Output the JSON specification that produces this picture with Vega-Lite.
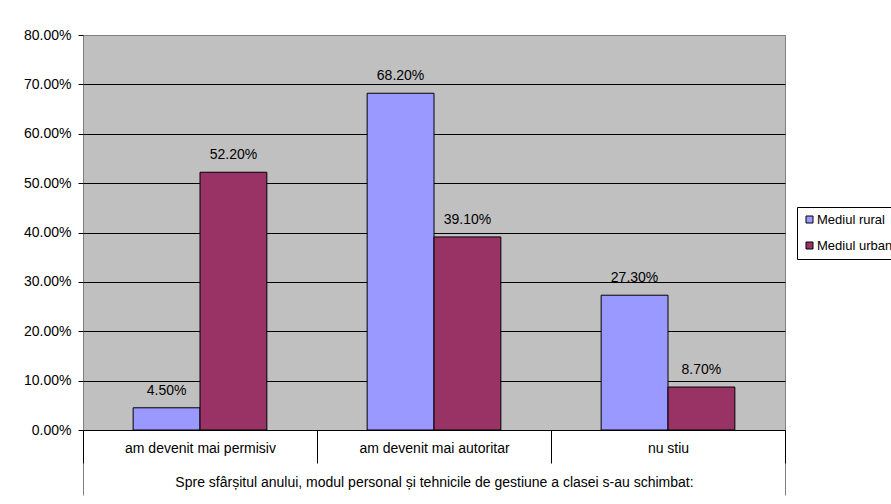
{
  "$schema": "https://vega.github.io/schema/vega-lite/v6.json",
  "width": 702,
  "height": 395,
  "autosize": {"type": "none"},
  "padding": {"left": 83, "top": 35, "right": 106, "bottom": 74},
  "background": "#FFFFFF",
  "config": {
    "font": "Liberation Sans",
    "view": {"fill": "#C0C0C0", "stroke": "#808080", "strokeWidth": 1},
    "axis": {"labelFont": "Liberation Sans", "labelFontSize": 14, "labelColor": "#000000"},
    "legend": {"labelFont": "Liberation Sans", "labelFontSize": 13, "labelColor": "#000000"}
  },
  "layer": [
    {
      "data": {"values": [
        {"question": "Spre sfârșitul anului, modul personal și tehnicile de gestiune a clasei s-au schimbat:"}
      ]},
      "mark": {"type": "bar", "opacity": 0},
      "encoding": {
        "x": {
          "field": "question",
          "type": "nominal",
          "scale": {"paddingInner": 0, "paddingOuter": 0},
          "axis": {
            "orient": "bottom",
            "title": null,
            "domain": false,
            "ticks": true,
            "tickBand": "extent",
            "tickSize": 65,
            "tickColor": "#808080",
            "tickWidth": 1,
            "labelAngle": 0,
            "labelBaseline": "middle",
            "labelPadding": -13,
            "labelLimit": 0
          }
        }
      }
    },
    {
      "data": {"values": [
        {"answer": "am devenit mai permisiv", "area": "Mediul rural", "share": 0.045},
        {"answer": "am devenit mai permisiv", "area": "Mediul urban", "share": 0.522},
        {"answer": "am devenit mai autoritar", "area": "Mediul rural", "share": 0.682},
        {"answer": "am devenit mai autoritar", "area": "Mediul urban", "share": 0.391},
        {"answer": "nu stiu", "area": "Mediul rural", "share": 0.273},
        {"answer": "nu stiu", "area": "Mediul urban", "share": 0.087}
      ]},
      "encoding": {
        "x": {
          "field": "answer",
          "type": "nominal",
          "sort": null,
          "scale": {"paddingInner": 0, "paddingOuter": 0},
          "axis": {
            "orient": "bottom",
            "title": null,
            "domain": true,
            "domainColor": "#000000",
            "domainWidth": 1,
            "ticks": true,
            "tickBand": "extent",
            "tickSize": 33,
            "tickColor": "#000000",
            "tickWidth": 1,
            "labelAngle": 0,
            "labelBaseline": "middle",
            "labelPadding": -15,
            "labelLimit": 0
          }
        },
        "xOffset": {
          "field": "area",
          "type": "nominal",
          "sort": null,
          "scale": {"paddingInner": 0, "paddingOuter": 0.75}
        },
        "y": {
          "field": "share",
          "type": "quantitative",
          "scale": {"domain": [0, 0.8], "nice": false, "zero": true},
          "axis": {
            "title": null,
            "values": [0, 0.1, 0.2, 0.3, 0.4, 0.5, 0.6, 0.7, 0.8],
            "format": ".2%",
            "domain": false,
            "ticks": true,
            "tickSize": 5,
            "tickColor": "#000000",
            "labelPadding": 7,
            "grid": true,
            "gridColor": {"condition": {"test": "datum.value >= 0.8", "value": "#808080"}, "value": "#000000"},
            "gridWidth": 1,
            "gridOpacity": 1
          }
        }
      },
      "layer": [
        {
          "mark": {"type": "bar", "stroke": "#000000", "strokeWidth": 1},
          "encoding": {
            "color": {
              "field": "area",
              "type": "nominal",
              "sort": null,
              "scale": {"domain": ["Mediul rural", "Mediul urban"], "range": ["#9999FF", "#993366"]},
              "legend": {
                "title": null,
                "orient": "none",
                "legendX": 714,
                "legendY": 172,
                "symbolType": "square",
                "symbolSize": 49,
                "symbolStrokeColor": "#000000",
                "symbolStrokeWidth": 1,
                "symbolOpacity": 1,
                "labelOffset": 1,
                "rowPadding": 12,
                "padding": 6,
                "strokeColor": "#000000",
                "fillColor": "#FFFFFF",
                "labelLimit": 0
              }
            }
          }
        },
        {
          "mark": {"type": "text", "dy": -17, "baseline": "middle", "align": "center", "fontSize": 14, "font": "Liberation Sans", "color": "#000000"},
          "encoding": {
            "text": {"field": "share", "type": "quantitative", "format": ".2%"}
          }
        }
      ]
    }
  ],
  "resolve": {"scale": {"x": "independent"}, "axis": {"x": "independent"}}
}
